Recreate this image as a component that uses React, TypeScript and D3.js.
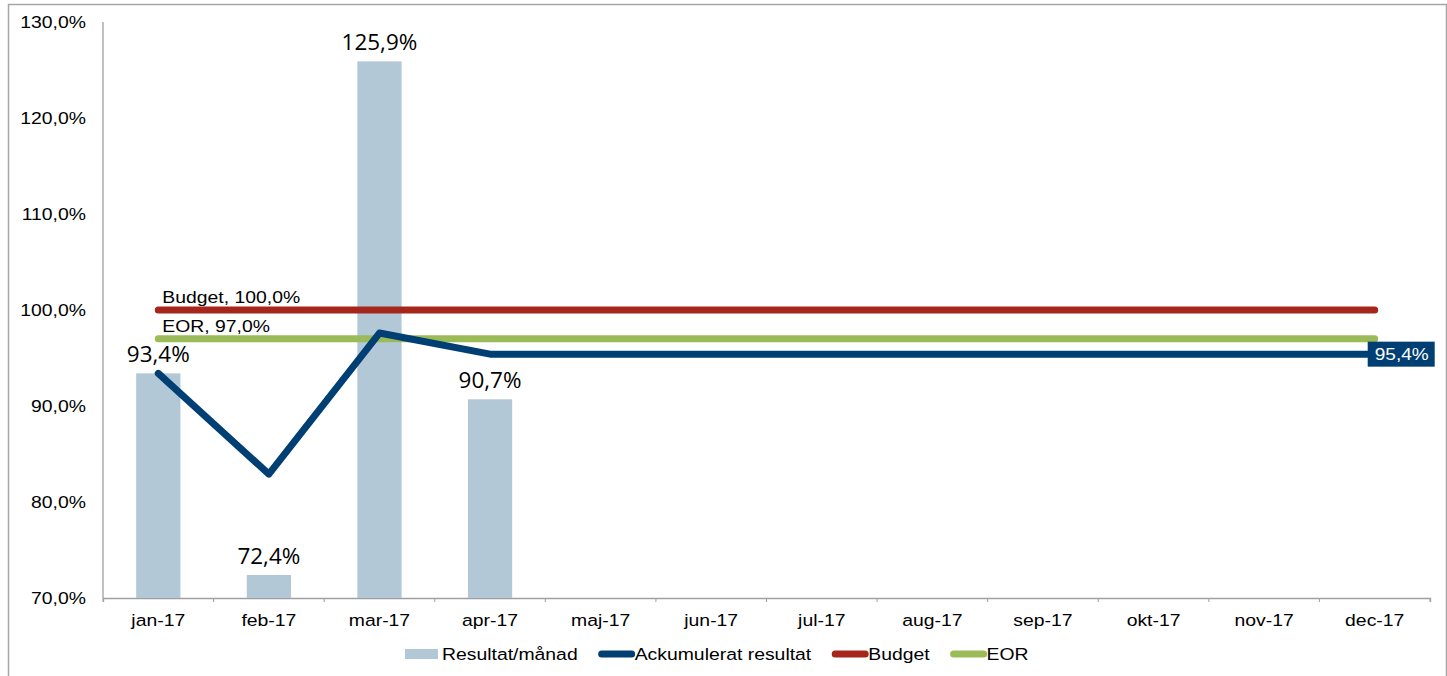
import { useEffect, useRef } from "react";
import * as d3 from "d3";

const months = ["jan-17", "feb-17", "mar-17", "apr-17", "maj-17", "jun-17", "jul-17", "aug-17", "sep-17", "okt-17", "nov-17", "dec-17"];
const monthly = [93.4, 72.4, 125.9, 90.7];
const cumulative = [93.4, 82.9, 97.6, 95.4, 95.4, 95.4, 95.4, 95.4, 95.4, 95.4, 95.4, 95.4];
const budget = 100.0;
const eor = 97.0;
const yTicks = [70, 80, 90, 100, 110, 120, 130];
const legendItems = ["Resultat/månad", "Ackumulerat resultat", "Budget", "EOR"];

const fmt = (v: number) => v.toFixed(1).replace(".", ",") + "%";

const BAR = "#b3c8d7";
const BLUE = "#003f73";
const RED = "#a5271c";
const GREEN = "#9bbb59";
const FONT = "'Liberation Sans', Arial, sans-serif";
const STRETCH = 1.14; // the original text is a bit wider than plain Arial

type Sel = d3.Selection<SVGGElement, unknown, null, undefined> | d3.Selection<SVGSVGElement, unknown, null, undefined>;

function label(
  parent: Sel,
  x: number,
  y: number,
  str: string,
  opts: { anchor?: string; size?: number; fill?: string; dy?: string; family?: string; stretch?: number } = {}
) {
  const t = (parent as any)
    .append("text")
    .attr("transform", `translate(${x},${y}) scale(${opts.stretch ?? STRETCH},1)`)
    .attr("text-anchor", opts.anchor ?? "start")
    .attr("fill", opts.fill ?? "#000")
    .style("font-family", opts.family ?? FONT)
    .style("font-size", `${opts.size ?? 17}px`)
    .text(str);
  if (opts.dy) t.attr("dy", opts.dy);
  return t;
}

export default function App() {
  const svgRef = useRef<SVGSVGElement | null>(null);

  useEffect(() => {
    if (!svgRef.current) return;
    const W = 1447;
    const H = 676;
    const margin = { top: 22, right: 17, bottom: 78, left: 103 };

    d3.select(svgRef.current).selectAll("*").remove();
    const svg = d3.select(svgRef.current).attr("width", W).attr("height", H);

    // outer frame (top / left / right visible)
    svg.append("path")
      .attr("d", `M8.5,${H} V4.5 H1446.5 V${H}`)
      .attr("fill", "none")
      .attr("stroke", "#a6a6a6")
      .attr("stroke-width", 1.5);

    const x = d3.scaleBand().domain(months).range([margin.left, W - margin.right]);
    const y = d3.scaleLinear().domain([70, 130]).range([H - margin.bottom, margin.top]);
    const cx = (m: string) => (x(m) || 0) + x.bandwidth() / 2;
    const barW = x.bandwidth() * 0.4;

    // x axis
    const xAxis = svg.append("g")
      .attr("transform", `translate(0,${y(70)})`)
      .call(d3.axisBottom(x).tickSize(4).tickSizeOuter(4).tickFormat(() => ""));
    xAxis.select(".domain").attr("stroke", "#a0a0a0").attr("stroke-width", 1.3);
    xAxis.selectAll(".tick line").attr("stroke", "#a0a0a0").attr("transform", `translate(${x.bandwidth() / 2},0)`);
    xAxis.append("line").attr("x1", margin.left).attr("x2", margin.left).attr("y1", 0).attr("y2", 4).attr("stroke", "#a0a0a0");
    months.forEach((m) => label(svg, cx(m), y(70) + 28, m, { anchor: "middle" }));

    // y axis
    svg.append("line")
      .attr("x1", margin.left).attr("x2", margin.left)
      .attr("y1", y(130)).attr("y2", y(70))
      .attr("stroke", "#a0a0a0").attr("stroke-width", 1.3);
    yTicks.forEach((t) => label(svg, 86, y(t), fmt(t), { anchor: "end", dy: "0.35em" }));

    // bars
    const bars = monthly.map((v, i) => ({ m: months[i], v }));
    svg.append("g").selectAll("rect")
      .data(bars)
      .join("rect")
      .attr("x", (d) => cx(d.m) - barW / 2)
      .attr("y", (d) => y(d.v))
      .attr("width", barW)
      .attr("height", (d) => y(70) - y(d.v))
      .attr("fill", BAR);

    bars.forEach((d) =>
      label(svg, cx(d.m), y(d.v) - 11, fmt(d.v), {
        anchor: "middle",
        size: 21,
        family: "'Open Sans', 'Noto Sans', sans-serif",
        stretch: 1.07,
      })
    );

    // budget & EOR lines
    const first = cx(months[0]);
    const last = cx(months[months.length - 1]);
    const hl = [
      { name: "Budget", v: budget, c: RED },
      { name: "EOR", v: eor, c: GREEN },
    ];
    hl.forEach((h) => {
      svg.append("line")
        .attr("x1", first).attr("x2", last)
        .attr("y1", y(h.v)).attr("y2", y(h.v))
        .attr("stroke", h.c).attr("stroke-width", 7).attr("stroke-linecap", "round");
      label(svg, first + 4, y(h.v) - 7, `${h.name}, ${fmt(h.v)}`);
    });

    // cumulative line
    const line = d3.line<number>().x((_, i) => cx(months[i])).y((d) => y(d));
    svg.append("path")
      .datum(cumulative)
      .attr("d", line)
      .attr("fill", "none")
      .attr("stroke", BLUE)
      .attr("stroke-width", 7)
      .attr("stroke-linecap", "round")
      .attr("stroke-linejoin", "round");

    // end label
    const lastV = cumulative[cumulative.length - 1];
    svg.append("rect")
      .attr("x", last - 7).attr("y", y(lastV) - 12.5)
      .attr("width", 67).attr("height", 25)
      .attr("fill", BLUE);
    label(svg, last - 7 + 34, y(lastV), fmt(lastV), { anchor: "middle", fill: "#fff", dy: "0.36em", stretch: 1.12 });

    // legend
    const types = ["rect", "line", "line", "line"];
    const colors = [BAR, BLUE, RED, GREEN];
    const ly = 654;
    const lg = svg.append("g");
    let lx = 405;
    legendItems.forEach((name, i) => {
      if (types[i] === "rect") {
        lg.append("rect").attr("x", lx).attr("y", ly - 5).attr("width", 33).attr("height", 10).attr("fill", colors[i]);
      } else {
        lg.append("line")
          .attr("x1", lx + 4).attr("x2", lx + 34)
          .attr("y1", ly).attr("y2", ly)
          .attr("stroke", colors[i]).attr("stroke-width", 7).attr("stroke-linecap", "round");
      }
      const t = label(lg, lx + 37, ly, name, { dy: "0.36em" });
      const w = (t.node() as SVGTextElement).getComputedTextLength() * STRETCH;
      lx += 37 + w + 20;
    });
  }, []);

  return (
    <svg ref={svgRef} style={{ position: "absolute", left: 0, top: 0, background: "#fff" }} />
  );
}
